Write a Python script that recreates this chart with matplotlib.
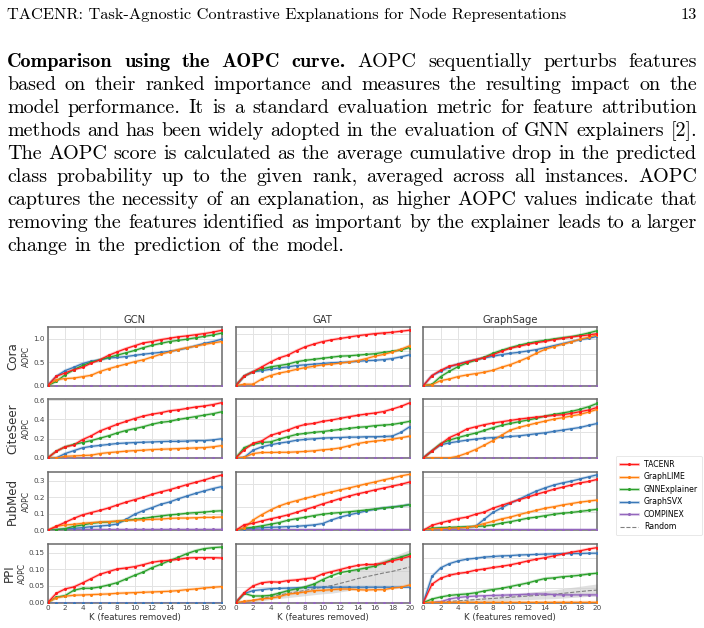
import matplotlib
matplotlib.use("Agg")
import matplotlib.pyplot as plt
from matplotlib.lines import Line2D
from matplotlib.ticker import MultipleLocator

W, H = 704, 628          # output size in pixels (dpi 100)
K = list(range(21))      # features removed

METHODS = ["TACENR", "GraphLIME", "GNNExplainer", "GraphSVX", "COMPINEX", "Random"]
COLORS = {"TACENR": "#ff1a1a", "GraphLIME": "#ff7f0e", "GNNExplainer": "#2ca02c",
          "GraphSVX": "#3a78b8", "COMPINEX": "#9467bd", "Random": "#808080"}
MODELS = ["GCN", "GAT", "GraphSage"]
DATASETS = ["Cora", "CiteSeer", "PubMed", "PPI"]
ZERO = [0.0] * 21

# ------------------------------------------------------------------ data
GCN_CORA = {
    "TACENR":       [0, .20, .27, .34, .39, .48, .55, .645, .72, .79, .85, .91, .94, .98, 1.01, 1.04, 1.06, 1.085, 1.11, 1.14, 1.18],
    "GraphLIME":    [0, .13, .15, .16, .19, .22, .30, .36, .41, .46, .51, .55, .61, .67, .72, .77, .81, .84, .88, .91, .94],
    "GNNExplainer": [0, .09, .23, .34, .43, .50, .55, .60, .65, .70, .75, .81, .86, .90, .94, .965, .99, 1.02, 1.05, 1.08, 1.12],
    "GraphSVX":     [0, .20, .32, .39, .47, .52, .55, .59, .60, .62, .645, .67, .69, .71, .73, .76, .80, .85, .90, .94, .99],
}
GCN_CITESEER = {
    "TACENR":       [0, .07, .115, .135, .19, .23, .28, .315, .35, .38, .41, .435, .455, .47, .49, .50, .515, .53, .54, .555, .575],
    "GraphLIME":    [0, 0, .017, .02, .025, .028, .045, .055, .062, .07, .076, .08, .087, .09, .093, .097, .10, .104, .107, .115, .128],
    "GNNExplainer": [0, .07, .115, .14, .16, .18, .205, .23, .26, .285, .305, .325, .35, .37, .38, .40, .415, .43, .445, .46, .48],
    "GraphSVX":     [0, 0, .045, .075, .105, .12, .13, .14, .15, .155, .16, .163, .166, .17, .172, .172, .175, .18, .18, .187, .20],
}
GCN_PUBMED = {
    "TACENR":       [0, .024, .048, .072, .093, .107, .12, .135, .153, .17, .185, .20, .217, .232, .245, .26, .276, .29, .304, .32, .334],
    "GraphLIME":    [0, .024, .032, .036, .042, .046, .05, .052, .056, .06, .062, .064, .066, .068, .072, .074, .074, .076, .078, .078, .08],
    "GNNExplainer": [0, .004, .01, .024, .032, .042, .048, .05, .054, .06, .066, .072, .08, .086, .093, .097, .103, .107, .11, .115, .118],
    "GraphSVX":     [0, .004, .008, .012, .016, .022, .026, .03, .038, .066, .097, .119, .137, .157, .171, .19, .207, .223, .238, .252, .264],
    "COMPINEX":     [0, .004, .005, .005, .005, .005, .005, .005, .005, .005, .005, .005, .005, .005, .005, .005, .005, .005, .005, .005, .005],
}
GCN_PPI = {
    "TACENR":       [0, .028, .041, .047, .059, .072, .085, .093, .101, .104, .108, .114, .121, .125, .127, .13, .134, .135, .135, .135, .134],
    "GraphLIME":    [0, .015, .019, .022, .023, .024, .025, .026, .028, .029, .03, .031, .032, .033, .034, .036, .039, .041, .044, .046, .048],
    "GNNExplainer": [0, .016, .021, .037, .043, .043, .047, .053, .06, .071, .082, .092, .105, .115, .126, .136, .147, .156, .162, .165, .167],
}
GAT_CORA = {
    "TACENR":       [0, .14, .20, .27, .34, .40, .44, .505, .56, .60, .635, .66, .68, .70, .72, .735, .75, .76, .77, .785, .80],
    "GraphLIME":    [0, .02, .02, .095, .145, .18, .205, .235, .26, .28, .30, .31, .325, .34, .36, .39, .425, .45, .485, .525, .575],
    "GNNExplainer": [0, .14, .20, .24, .27, .29, .31, .345, .365, .38, .395, .41, .425, .43, .44, .45, .46, .48, .495, .515, .55],
    "GraphSVX":     [0, .14, .20, .215, .235, .255, .27, .29, .30, .31, .32, .33, .335, .34, .35, .36, .365, .375, .39, .415, .445],
}
GAT_CITESEER = {
    "TACENR":       [0, .04, .07, .082, .108, .121, .134, .15, .161, .166, .176, .182, .19, .198, .205, .211, .216, .223, .235, .248, .265],
    "GraphLIME":    [0, .003, .021, .026, .026, .027, .027, .029, .031, .034, .039, .042, .048, .058, .069, .076, .081, .085, .09, .097, .105],
    "GNNExplainer": [0, .05, .065, .074, .077, .09, .102, .113, .118, .123, .127, .132, .137, .142, .147, .15, .155, .158, .161, .168, .176],
    "GraphSVX":     [0, .003, .037, .053, .063, .071, .077, .085, .089, .092, .095, .097, .098, .10, .10, .102, .102, .103, .105, .123, .15],
}
GAT_PUBMED = {
    "TACENR":       [0, .024, .03, .04, .049, .057, .066, .077, .089, .10, .113, .124, .136, .146, .156, .164, .173, .181, .189, .197, .207],
    "GraphLIME":    [0, .01, .044, .067, .087, .104, .117, .127, .137, .146, .156, .164, .173, .181, .19, .199, .207, .216, .224, .233, .24],
    "GNNExplainer": [0, .009, .013, .019, .026, .033, .043, .05, .056, .063, .069, .073, .076, .079, .083, .087, .091, .096, .099, .104, .11],
    "GraphSVX":     [0, .006, .009, .011, .013, .014, .016, .017, .02, .023, .029, .044, .056, .066, .074, .083, .09, .096, .10, .104, .11],
    "COMPINEX":     [0, .003, .003, .003, .003, .003, .003, .003, .003, .003, .003, .003, .003, .003, .003, .003, .003, .003, .003, .003, .003],
}
GAT_PPI = {
    "TACENR":       [0, .032, .053, .063, .066, .065, .07, .072, .076, .079, .091, .098, .105, .112, .118, .121, .121, .126, .133, .139, .147],
    "GraphLIME":    [0, .004, .007, .012, .014, .019, .027, .03, .034, .038, .039, .041, .043, .043, .041, .04, .041, .041, .046, .049, .056],
    "GNNExplainer": [0, .029, .021, .021, .023, .03, .038, .044, .05, .059, .073, .085, .095, .10, .105, .11, .116, .126, .137, .145, .153],
    "GraphSVX":     [0, .029, .038, .041, .044, .045, .046, .047, .048, .049, .049, .049, .049, .049, .049, .049, .049, .049, .049, .049, .049],
    "Random":       [0, .004, .007, .012, .019, .024, .029, .034, .039, .044, .049, .054, .061, .068, .076, .082, .088, .094, .099, .106, .113],
}
GAT_PPI_RANDOM_STD = [0, .003, .005, .007, .009, .011, .013, .015, .017, .019, .021, .024, .027, .03, .033, .036, .039, .043, .047, .051, .055]
SAGE_CORA = {
    "TACENR":       [0, .16, .245, .31, .34, .378, .415, .447, .495, .548, .596, .628, .66, .686, .707, .734, .755, .777, .793, .809, .83],
    "GraphLIME":    [0, .016, .08, .106, .144, .17, .191, .213, .245, .293, .335, .388, .447, .516, .58, .622, .66, .697, .739, .771, .814],
    "GNNExplainer": [0, .02, .144, .229, .303, .362, .404, .452, .516, .564, .606, .644, .676, .702, .723, .745, .766, .782, .809, .84, .878],
    "GraphSVX":     [0, .16, .229, .298, .346, .383, .415, .441, .468, .495, .516, .532, .553, .574, .606, .638, .67, .702, .734, .755, .787],
}
SAGE_CITESEER = {
    "TACENR":       [0, .054, .105, .156, .185, .221, .238, .254, .267, .277, .287, .297, .305, .313, .318, .326, .331, .341, .354, .367, .387],
    "GraphLIME":    [0, 0, 0, 0, .013, .036, .064, .097, .133, .174, .213, .233, .251, .267, .282, .297, .308, .321, .333, .351, .372],
    "GNNExplainer": [0, .054, .11, .136, .156, .174, .19, .21, .231, .249, .264, .277, .29, .303, .321, .333, .344, .356, .372, .392, .418],
    "GraphSVX":     [0, .054, .10, .115, .126, .136, .144, .151, .156, .159, .164, .169, .177, .185, .192, .203, .213, .223, .233, .249, .264],
}
SAGE_PUBMED = {
    "TACENR":       [0, .014, .021, .027, .033, .037, .045, .051, .062, .07, .078, .086, .093, .101, .108, .115, .121, .127, .133, .137, .143],
    "GraphLIME":    [0, .004, .005, .006, .007, .008, .012, .019, .025, .032, .037, .044, .05, .056, .062, .066, .071, .075, .079, .082, .085],
    "GNNExplainer": [0, .006, .007, .008, .009, .01, .011, .012, .015, .02, .024, .029, .034, .037, .041, .045, .048, .05, .053, .056, .059],
    "GraphSVX":     [0, .004, .006, .007, .007, .009, .011, .031, .05, .063, .076, .087, .099, .11, .119, .127, .133, .138, .144, .15, .156],
    "COMPINEX":     [0, .002, .002, .002, .002, .002, .002, .002, .002, .002, .002, .002, .002, .002, .002, .002, .002, .002, .002, .002, .002],
}
SAGE_PPI = {
    "TACENR":       [0, .062, .082, .092, .098, .102, .109, .113, .118, .122, .127, .133, .14, .146, .151, .157, .163, .169, .174, .18, .185],
    "GraphLIME":    [0, .001, .001, .001, .001, .001, .001, .001, .001, .001, .001, .001, .001, .001, .001, .001, .001, .001, .001, .001, .001],
    "GNNExplainer": [0, .012, .019, .024, .027, .029, .033, .039, .044, .048, .054, .06, .066, .074, .081, .083, .087, .089, .092, .096, .099],
    "GraphSVX":     [0, .088, .117, .131, .14, .146, .149, .153, .155, .157, .158, .16, .161, .162, .163, .164, .165, .165, .165, .166, .166],
    "COMPINEX":     [0, 0, .003, .012, .017, .02, .022, .023, .024, .025, .026, .027, .028, .029, .029, .027, .026, .026, .026, .026, .026],
    "Random":       [0, .001, .002, .004, .006, .008, .01, .012, .014, .016, .018, .02, .022, .024, .026, .028, .031, .034, .037, .04, .042],
}
SAGE_PPI_RANDOM_STD = [0, .001, .002, .003, .004, .005, .006, .007, .008, .009, .01, .011, .012, .013, .014, .015, .016, .017, .018, .019, .021]

PANELS = [[GCN_CORA, GAT_CORA, SAGE_CORA],
          [GCN_CITESEER, GAT_CITESEER, SAGE_CITESEER],
          [GCN_PUBMED, GAT_PUBMED, SAGE_PUBMED],
          [GCN_PPI, GAT_PPI, SAGE_PPI]]
RANDOM_STD = {(3, 1): GAT_PPI_RANDOM_STD, (3, 2): SAGE_PPI_RANDOM_STD}
YTOP = [[1.25, 0.846, 0.936], [0.61, 0.282, 0.449],
        [0.354, 0.251, 0.1645], [0.176, 0.186, 0.197]]
YSTEP = [[0.5, 0.25, 0.25], [0.2, 0.1, 0.2], [0.1, 0.1, 0.05], [0.05, 0.05, 0.05]]

HEADER = "TACENR: Task-Agnostic Contrastive Explanations for Node Representations"
BOLD_LEAD = "Comparison using the AOPC curve."
LINES = [
    "AOPC sequentially perturbs features",
    "based on their ranked importance and measures the resulting impact on the",
    "model performance. It is a standard evaluation metric for feature attribution",
    "methods and has been widely adopted in the evaluation of GNN explainers [2].",
    "The AOPC score is calculated as the average cumulative drop in the predicted",
    "class probability up to the given rank, averaged across all instances. AOPC",
    "captures the necessity of an explanation, as higher AOPC values indicate that",
    "removing the features identified as important by the explainer leads to a larger",
    "change in the prediction of the model.",
]


def px(x, y):
    return x / W, 1 - y / H


fig = plt.figure(figsize=(W / 100, H / 100), dpi=100)
renderer = fig.canvas.get_renderer()


# --------------------------------------------------------------- page text
def word_widths(words, fams, size):
    out = []
    for w, f in zip(words, fams):
        t = fig.text(0, 0, w, family=f, size=size)
        out.append(t.get_window_extent(renderer).width)
        t.remove()
    return out


def space_px(size, em=0.30):
    return em * size * 100 / 72


def place_words(words, y, fams, size, x0=7.0, x1=697.0, justify=True):
    widths = word_widths(words, fams, size)
    if justify and len(words) > 1:
        gap = (x1 - x0 - sum(widths)) / (len(words) - 1)
    else:
        gap = space_px(size, 0.36)
    x = x0
    for w, f, wd in zip(words, fams, widths):
        fig.text(x / W, 1 - y / H, w, family=f, size=size, va="baseline")
        x += wd + gap


# header sized to the reference width
t = fig.text(0, 0, HEADER, family="cmr10", size=10)
hsize = 10 * 560 / t.get_window_extent(renderer).width
t.remove()

line_words, line_fams = [], []
for i, line in enumerate(LINES):
    words = line.split()
    fams = ["cmr10"] * len(words)
    if i == 0:
        lead = BOLD_LEAD.split()
        words = lead + words
        fams = ["cmb10"] * len(lead) + fams
    line_words.append(words)
    line_fams.append(fams)

# body size: the tightest justified line gets ordinary interword spaces
need = max(sum(word_widths(w, f, 10)) + (len(w) - 1) * space_px(10)
           for w, f in zip(line_words[:-1], line_fams[:-1]))
psize = 10 * 690 / need

fig.text(7 / W, 1 - 19 / H, HEADER, family="cmr10", size=hsize, va="baseline")
fig.text(697 / W, 1 - 19 / H, "13", family="cmr10", size=hsize, va="baseline", ha="right")

for i, (words, fams) in enumerate(zip(line_words, line_fams)):
    place_words(words, 67 + 22.95 * i, fams, psize, justify=(i < len(LINES) - 1))

# ------------------------------------------------------------------ panels
LEFTS = [47.7, 235.7, 423.3]
TOPS = [327.0, 399.3, 471.7, 544.0]
AW, AH = 174.0, 58.6

first_col = []
for r in range(4):
    for c in range(3):
        l, b = px(LEFTS[c], TOPS[r] + AH)
        ax = fig.add_axes([l, b, AW / W, AH / H])
        data = PANELS[r][c]
        for m in reversed(METHODS):
            vals = data.get(m, ZERO)
            col = COLORS[m]
            if m == "Random":
                std = RANDOM_STD.get((r, c))
                if std is not None:
                    lo = [v - s for v, s in zip(vals, std)]
                    hi = [v + s for v, s in zip(vals, std)]
                    ax.fill_between(K, lo, hi, color="#c8c8c8", alpha=0.55, lw=0, zorder=1)
                ax.plot(K, vals, ls="--", color=col, lw=0.8, zorder=2)
            else:
                ax.plot(K, vals, color=col, lw=2.2, alpha=0.25, solid_capstyle="butt", zorder=3)
                ax.plot(K, vals, color=col, lw=0.9, marker=".", ms=2.4, zorder=4)
        ax.set_xlim(0, 20)
        ax.set_ylim(0, YTOP[r][c])
        ax.xaxis.set_major_locator(MultipleLocator(2))
        ax.yaxis.set_major_locator(MultipleLocator(YSTEP[r][c]))
        ax.grid(True, color="#e3e3e3", lw=0.7)
        ax.set_axisbelow(True)
        for s in ax.spines.values():
            s.set_color("#6a6a6a")
            s.set_linewidth(1.1)
        ax.tick_params(length=0, labelsize=5.2, colors="#444444", pad=2)
        if c > 0:
            ax.tick_params(labelleft=False)
        else:
            ax.set_ylabel("AOPC", fontsize=5.6, color="#333333", labelpad=1.5)
            first_col.append(ax)
        if r < 3:
            ax.tick_params(labelbottom=False)
        else:
            ax.set_xlabel("K (features removed)", fontsize=6.2, color="#333333", labelpad=1)
        if r == 0:
            ax.set_title(MODELS[c], fontsize=7.2, color="#333333", pad=3)

# dataset names sit just left of each row's "AOPC" label
fig.canvas.draw()
for r, ax in enumerate(first_col):
    lab_left = ax.yaxis.label.get_window_extent(renderer).x0
    right = min(lab_left - 1.5, 19.0)
    yc = TOPS[r] + AH / 2
    fig.text(right / W, 1 - yc / H, DATASETS[r], rotation=90, ha="right", va="center",
             fontsize=8.6, color="#333333")

# ------------------------------------------------------------------ legend
handles = []
for m in METHODS:
    if m == "Random":
        handles.append(Line2D([], [], ls="--", color=COLORS[m], lw=0.8))
    else:
        handles.append((Line2D([], [], color=COLORS[m], lw=2.2, alpha=0.25),
                        Line2D([], [], color=COLORS[m], lw=0.9, marker=".", ms=2.4)))
leg = fig.legend(handles, METHODS, loc="upper left", bbox_to_anchor=px(612, 452),
                 fontsize=5.6, frameon=True, handlelength=2.4, borderpad=0.5,
                 labelspacing=0.45, handletextpad=0.7, fancybox=True)
leg.get_frame().set_edgecolor("#dddddd")
leg.get_frame().set_linewidth(0.6)

fig.savefig("out.png", dpi=100)
